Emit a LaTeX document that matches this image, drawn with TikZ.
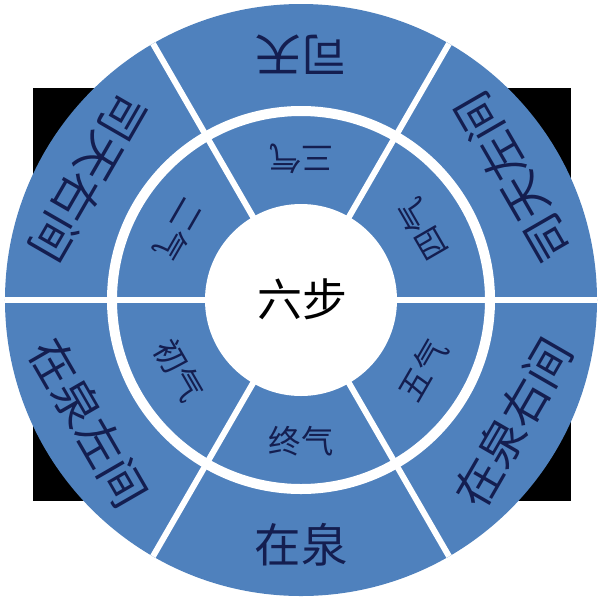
\documentclass[tikz,border=0pt]{standalone}
\usepackage{fontspec}
\newfontfamily\cjk{Noto Sans CJK SC}
\definecolor{ringblue}{RGB}{79,129,189}
\definecolor{darknavy}{RGB}{20,30,80}

\begin{document}
\begin{tikzpicture}[outerlabel/.style={font=\cjk\fontsize{33}{33}\selectfont,text=darknavy},
		innerlabel/.style={font=\cjk\fontsize{23}{23}\selectfont,text=darknavy},
		divider/.style={white,line width=1.5mm}]
		\useasboundingbox (-7.525,-7.525) rectangle (7.55,7.5);
		\fill[white] (-7.525,-7.525) rectangle (7.55,7.5);
		\fill[black] (-6.7,-5.025) rectangle (6.75,5.3);
		\fill[ringblue] (0,0) circle (7.4cm);
		\foreach \a in {0,60,...,300}
		\draw[divider] (\a:2.3) -- (\a:7.4);
		\draw[white,line width=2.5mm] (0,0) circle (4.725cm);
		\fill[white] (0,0) circle (2.4cm);
		% outer ring
		\foreach \a/\t [count=\i] in {30/司天左间,90/司天,150/司天右间,210/在泉左间,270/在泉,330/在泉右间}
		\node[outerlabel,rotate=\a+90] (outer\i) at (\a:6.125) {\t};
		% inner ring
		\foreach \a/\t [count=\i] in {30/四气,90/三气,150/二气,210/初气,270/终气,330/五气}
		\node[innerlabel,rotate=\a+90] (inner\i) at (\a:3.525) {\t};
		\node[font=\cjk\fontsize{32}{32}\selectfont] (steps) at (0.025,0.025) {六步};
	\end{tikzpicture}
\end{document}
